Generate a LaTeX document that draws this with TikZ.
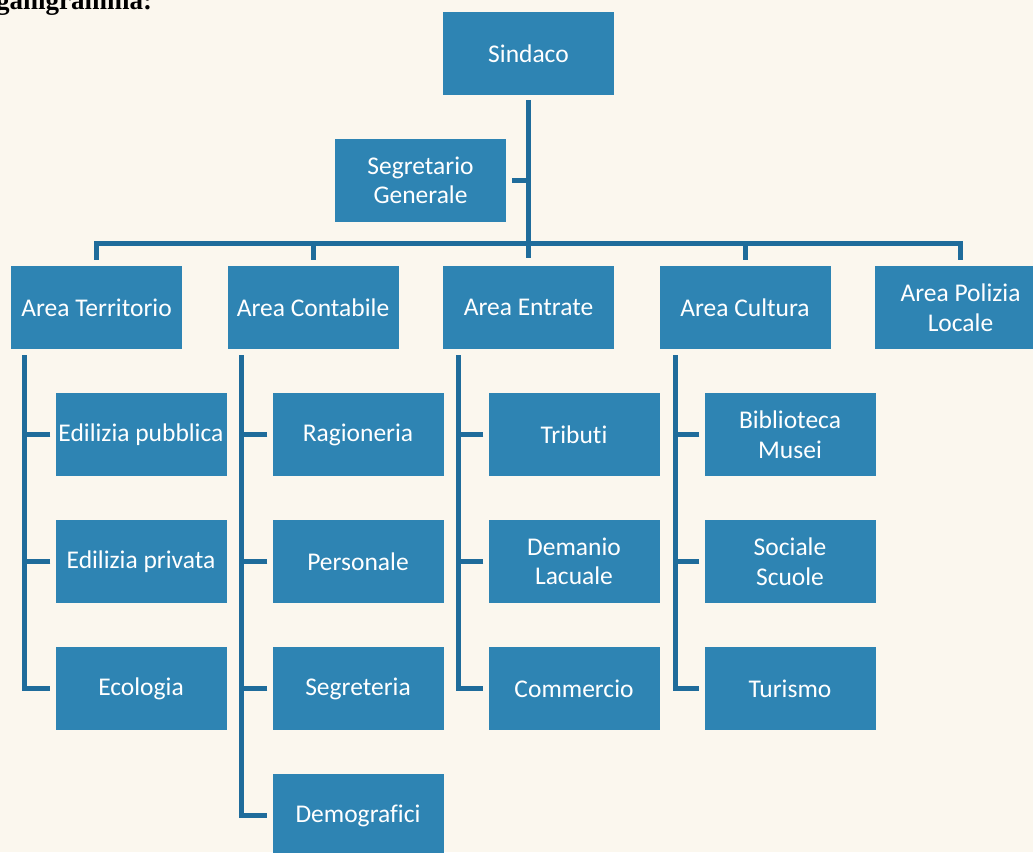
\documentclass[tikz,border=0pt]{standalone}
\usepackage{fontspec}
\setmainfont{Carlito}[Ligatures=NoCommon]
\newfontfamily\titlefont{Liberation Serif}
\definecolor{bgcol}{HTML}{FBF7EE}
\definecolor{boxcol}{HTML}{2E84B3}
\definecolor{linecol}{HTML}{1F6C9B}
\tikzset{
  box/.style={rectangle, fill=boxcol, text=white, minimum width=171pt, minimum height=83pt,
    inner sep=0pt, align=center, font=\fontsize{25.5}{29.5}\selectfont},
  conn/.style={draw=linecol, line width=5pt},
}
\begin{document}
\begin{tikzpicture}[x=1pt,y=-1pt]
\fill[bgcol] (0,0) rectangle (1033,852);
\useasboundingbox (0,0) rectangle (1033,852);
\clip (0,0) rectangle (1033,852);
\node[anchor=base west, inner sep=0pt, font=\titlefont\bfseries\fontsize{27}{30}\selectfont] (title) at (-4,9) {ganigramma:};

% level 0/1
\node[box] (sindaco) at (528.5,53.5) {Sindaco};
\node[box] (segr) at (420.5,180.5) {Segretario\\Generale};

% level 2
\node[box] (terr) at (96.5,307.5) {Area Territorio};
\node[box] (cont) at (313,307.5) {Area Contabile};
\node[box] (entr) at (528.5,307.5) {Area Entrate};
\node[box] (cult) at (745,307.5) {Area Cultura};
\node[box] (pol) at (960.5,307.5) {Area Polizia\\Locale};

% level 3
\node[box] (edp) at (141,434.5) {Edilizia pubblica};
\node[box] (edr) at (141,561.5) {Edilizia privata};
\node[box] (eco) at (141,688.5) {Ecologia};

\node[box] (rag) at (358,434.5) {Ragioneria};
\node[box] (per) at (358,561.5) {Personale};
\node[box] (seg) at (358,688.5) {Segreteria};
\node[box] (dem) at (358,815.5) {Demografici};

\node[box] (tri) at (574,434.5) {Tributi};
\node[box] (dl) at (574,561.5) {Demanio\\Lacuale};
\node[box] (com) at (574,688.5) {Commercio};

\node[box] (bib) at (790,434.5) {Biblioteca\\Musei};
\node[box] (soc) at (790,561.5) {Sociale\\Scuole};
\node[box] (tur) at (790,688.5) {Turismo};

% top connectors
\coordinate (bar) at (529,243);
\draw[conn] ([yshift=-5pt]sindaco.south) -- ([yshift=8pt]entr.north);
\draw[conn] ([xshift=6pt]segr.east) -- (segr.east -| sindaco.south);
\draw[conn] ([yshift=6pt]terr.north) |- (bar) -| ([yshift=6pt]pol.north);
\draw[conn] ([yshift=6pt]cont.north) -- (cont.north |- bar);
\draw[conn] ([yshift=6pt]cult.north) -- (cult.north |- bar);

% level 3 connectors
\coordinate (tl) at ([xshift=-72.5pt,yshift=-6pt]terr.south);
\draw[conn] (tl) |- ([xshift=-5pt]eco.west);
\draw[conn] ([xshift=-5pt]edp.west) -- (edp.west -| tl);
\draw[conn] ([xshift=-5pt]edr.west) -- (edr.west -| tl);

\coordinate (cl) at ([xshift=-72pt,yshift=-6pt]cont.south);
\draw[conn] (cl) |- ([xshift=-5pt]dem.west);
\draw[conn] ([xshift=-5pt]rag.west) -- (rag.west -| cl);
\draw[conn] ([xshift=-5pt]per.west) -- (per.west -| cl);
\draw[conn] ([xshift=-5pt]seg.west) -- (seg.west -| cl);

\coordinate (el) at ([xshift=-70.5pt,yshift=-6pt]entr.south);
\draw[conn] (el) |- ([xshift=-5pt]com.west);
\draw[conn] ([xshift=-5pt]tri.west) -- (tri.west -| el);
\draw[conn] ([xshift=-5pt]dl.west) -- (dl.west -| el);

\coordinate (ul) at ([xshift=-70pt,yshift=-6pt]cult.south);
\draw[conn] (ul) |- ([xshift=-5pt]tur.west);
\draw[conn] ([xshift=-5pt]bib.west) -- (bib.west -| ul);
\draw[conn] ([xshift=-5pt]soc.west) -- (soc.west -| ul);
\end{tikzpicture}
\end{document}
